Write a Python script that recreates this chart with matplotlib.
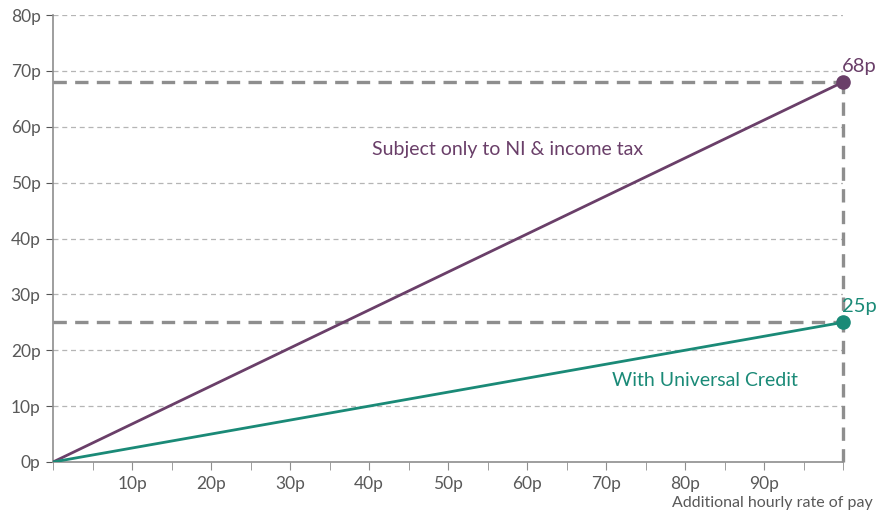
import matplotlib
matplotlib.use("Agg")
import matplotlib.pyplot as plt
from matplotlib.ticker import MultipleLocator

plt.rcParams["font.family"] = ["Lato", "DejaVu Sans"]

# data: additional pay (pence) -> amount kept (pence)
pay = [0, 100]
ni_tax_only = [0, 68]
universal_credit = [0, 25]
y_ticks = [0, 10, 20, 30, 40, 50, 60, 70, 80]
x_labels = [10, 20, 30, 40, 50, 60, 70, 80, 90]

PURPLE = "#6a3f69"
TEAL = "#1a8a77"
GREY = "#8e8e8e"
TXT = "#595959"

fig = plt.figure(figsize=(8.87, 5.11), dpi=100)
ax = fig.add_axes([0.0598, 0.0959, 0.8906, 0.8747])

ax.set_xlim(0, 100)
ax.set_ylim(0, 80)

for y in y_ticks[1:]:
    ax.axhline(y, color="#b5b5b5", lw=0.9, ls=(0, (4, 3)), zorder=1)

# reference dashes to end points
for vals in (ni_tax_only, universal_credit):
    ax.plot([0, pay[-1]], [vals[-1], vals[-1]], color=GREY, lw=2.4,
            ls=(0, (4, 2.5)), zorder=2, clip_on=False)
ax.plot([pay[-1], pay[-1]], [0, ni_tax_only[-1]], color=GREY, lw=2.4,
        ls=(0, (4, 2.5)), zorder=2, clip_on=False)

ax.plot(pay, ni_tax_only, color=PURPLE, lw=2, zorder=3)
ax.plot(pay, universal_credit, color=TEAL, lw=2, zorder=3)
ax.scatter(pay[-1], ni_tax_only[-1], s=90, color=PURPLE, zorder=4, clip_on=False)
ax.scatter(pay[-1], universal_credit[-1], s=90, color=TEAL, zorder=4, clip_on=False)

ax.text(pay[-1] - 0.1, ni_tax_only[-1] + 1.3, f"{ni_tax_only[-1]}p", color=PURPLE,
        fontsize=14.5, ha="left", va="bottom")
ax.text(pay[-1] - 0.1, universal_credit[-1] + 1.3, f"{universal_credit[-1]}p", color=TEAL,
        fontsize=14.5, ha="left", va="bottom")

ax.text(57.5, 56, "Subject only to NI & income tax", color=PURPLE, fontsize=14,
        ha="center", va="center")
ax.text(82.5, 14.5, "With Universal Credit", color=TEAL, fontsize=14,
        ha="center", va="center")

for side in ("top", "right"):
    ax.spines[side].set_visible(False)
for side in ("left", "bottom"):
    ax.spines[side].set_color(GREY)
    ax.spines[side].set_linewidth(1.2)

ax.set_yticks(y_ticks)
ax.set_yticklabels([f"{v}p" for v in y_ticks])
ax.tick_params(axis="y", length=5, color="#555555", labelcolor=TXT, labelsize=12.5, pad=4)

ax.xaxis.set_minor_locator(MultipleLocator(5))
ax.set_xticks(x_labels)
ax.set_xticklabels([f"{v}p" for v in x_labels])
ax.tick_params(axis="x", which="both", length=6, color=GREY, labelcolor=TXT,
               labelsize=12.5, pad=4)

fig.text(0.984, 0.002, "Additional hourly rate of pay", color=TXT, fontsize=11.5,
         ha="right", va="bottom")

fig.savefig("out.png", dpi=100)
